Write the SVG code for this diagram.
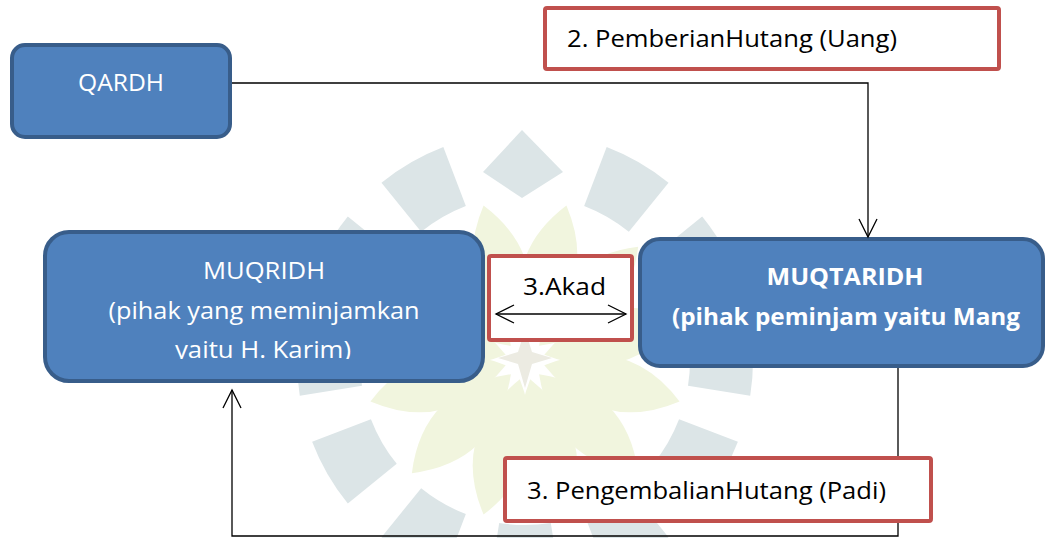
<svg xmlns="http://www.w3.org/2000/svg" width="1045" height="538" viewBox="0 0 1045 538">
  <style>
    .blue { fill: #4F81BD; stroke: #385D8A; stroke-width: 4; }
    .red { fill: #FFFFFF; stroke: #C0504D; stroke-width: 4; }
    .wt { font-family: "Open Sans", "Liberation Sans", sans-serif; font-size: 24px; fill: #FFFFFF; text-anchor: middle; }
    .bt { font-family: "Open Sans", "Liberation Sans", sans-serif; font-size: 24px; fill: #000000; }
    .bold { font-weight: bold; }
    .conn { fill: none; stroke: #000000; stroke-width: 1.3; }
    .seg { fill: #DCE5E7; }
    .leaf { fill: #F1F5DE; }
  </style>
  <defs>
    <marker id="arr" markerUnits="userSpaceOnUse" markerWidth="24" markerHeight="24" refX="20" refY="10" orient="auto-start-reverse" overflow="visible">
      <path d="M2,1 L20,10 L2,19" fill="none" stroke="#000000" stroke-width="1.3"/>
    </marker>
    <path id="segment" d="M499.2,197 L489.3,134.8 A228,228 0 0 1 560.7,134.8 L550.8,197 A165,165 0 0 0 499.2,197 Z"/>
    <path id="petal" d="M525,340 Q578,268 525,200 Q472,268 525,340 Z"/>
    <clipPath id="clipL">
      <rect x="45" y="200" width="438" height="159"/>
    </clipPath>
  </defs>
  <rect x="0" y="0" width="1045" height="538" fill="#FFFFFF"/>

  <g id="watermark">
    <g class="leaf">
      <use href="#petal" transform="rotate(15 525 360)"/>
      <use href="#petal" transform="rotate(45 525 360)"/>
      <use href="#petal" transform="rotate(75 525 360)"/>
      <use href="#petal" transform="rotate(105 525 360)"/>
      <use href="#petal" transform="rotate(135 525 360)"/>
      <use href="#petal" transform="rotate(165 525 360)"/>
      <use href="#petal" transform="rotate(195 525 360)"/>
      <use href="#petal" transform="rotate(225 525 360)"/>
      <use href="#petal" transform="rotate(255 525 360)"/>
      <use href="#petal" transform="rotate(285 525 360)"/>
      <use href="#petal" transform="rotate(315 525 360)"/>
      <use href="#petal" transform="rotate(345 525 360)"/>
    </g>
    <g class="seg">
      <path d="M522,130 L563,172 L522,198 L483,172 Z"/>
      <use href="#segment" transform="rotate(30 525 360)"/>
      <use href="#segment" transform="rotate(60 525 360)"/>
      <use href="#segment" transform="rotate(90 525 360)"/>
      <use href="#segment" transform="rotate(120 525 360)"/>
      <use href="#segment" transform="rotate(150 525 360)"/>
      <use href="#segment" transform="rotate(180 525 360)"/>
      <use href="#segment" transform="rotate(210 525 360)"/>
      <use href="#segment" transform="rotate(240 525 360)"/>
      <use href="#segment" transform="rotate(270 525 360)"/>
      <use href="#segment" transform="rotate(300 525 360)"/>
      <use href="#segment" transform="rotate(330 525 360)"/>
    </g>
    <path d="M525,330 L532,352 L552,358 L532,364 L525,388 L518,364 L498,358 L518,352 Z" fill="#ECEBE2"/>
  </g>

  <g id="qardh">
    <rect class="blue" x="12" y="45" width="218" height="92" rx="13"/>
    <text class="wt" x="121" y="91" textLength="86" lengthAdjust="spacingAndGlyphs">QARDH</text>
  </g>

  <g id="pemberian">
    <rect class="red" x="545" y="8" width="454" height="61" rx="2"/>
    <text class="bt" x="567" y="47" textLength="330" lengthAdjust="spacingAndGlyphs">2. PemberianHutang (Uang)</text>
  </g>

  <g id="muqridh">
    <rect class="blue" x="45" y="232" width="438" height="149" rx="24"/>
    <text class="wt" x="264" y="279" textLength="122" lengthAdjust="spacingAndGlyphs">MUQRIDH</text>
    <text class="wt" x="264" y="319" textLength="311" lengthAdjust="spacingAndGlyphs">(pihak yang meminjamkan</text>
    <text class="wt" x="263" y="358" textLength="176" lengthAdjust="spacingAndGlyphs" clip-path="url(#clipL)">yaitu H. Karim)</text>
  </g>

  <g id="akad">
    <rect class="red" x="489" y="256" width="143" height="84" rx="2"/>
    <text class="bt" x="523" y="295" textLength="83" lengthAdjust="spacingAndGlyphs">3.Akad</text>
  </g>

  <g id="muqtaridh">
    <rect class="blue" x="640" y="239" width="403" height="127" rx="20"/>
    <text class="wt bold" x="845" y="285" textLength="157" lengthAdjust="spacingAndGlyphs">MUQTARIDH</text>
    <text class="wt bold" x="846" y="325" textLength="348" lengthAdjust="spacingAndGlyphs">(pihak peminjam yaitu Mang</text>
  </g>

  <g id="pengembalian">
    <rect class="red" x="505" y="458" width="426" height="63" rx="2"/>
    <text class="bt" x="527" y="499" textLength="359" lengthAdjust="spacingAndGlyphs">3. PengembalianHutang (Padi)</text>
  </g>

  <g id="connectors">
    <path class="conn" d="M232,83 H868 V237" marker-end="url(#arr)"/>
    <path class="conn" d="M898,368 V456"/>
    <path class="conn" d="M898,523 V536 H232 V390" marker-end="url(#arr)"/>
    <path class="conn" d="M496,314 H626" marker-start="url(#arr)" marker-end="url(#arr)"/>
  </g>
</svg>
